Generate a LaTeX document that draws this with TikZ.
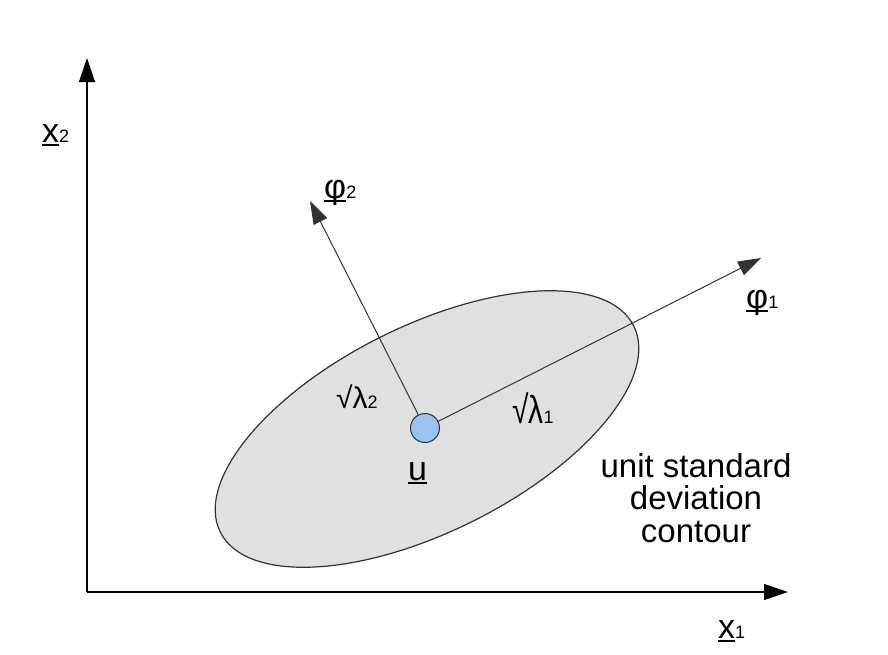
\documentclass[tikz,border=0pt]{standalone}
\usepackage{fontspec}
\setmainfont{Liberation Sans}
\usetikzlibrary{arrows.meta}
\newcommand\myul[1]{\setbox0\hbox{#1}\rlap{\rule[-3.5pt]{\wd0}{1.4pt}}\box0}
\newcommand\mysub[1]{{\fontsize{18}{18}\selectfont #1}}
\definecolor{ellfill}{RGB}{224,224,224}
\definecolor{ublue}{RGB}{153,194,243}
\definecolor{dgray}{RGB}{50,50,50}
\begin{document}
\begin{tikzpicture}[x=1pt,y=-1pt,
  axis/.style={line width=1.2pt, draw=black, -{Triangle[length=24pt,width=16pt]}},
  vec/.style={line width=1pt, draw=dgray, -{Triangle[length=23pt,width=15pt]}},
  lbl/.style={inner sep=0pt, font=\fontsize{34}{34}\selectfont},
  lam/.style={inner sep=0pt, font=\fontsize{30}{30}\selectfont},
  note/.style={inner sep=0pt, align=center, font=\fontsize{33}{32.5}\selectfont},
  mean/.style={circle, draw=dgray, line width=1pt, fill=ublue, minimum size=29pt, inner sep=0pt}]
\useasboundingbox (0,0) rectangle (888,654);
% axes
\coordinate (O) at (87,592);
\coordinate (xtip) at (788,592);
\coordinate (ytip) at (87,58);
\draw[axis] (O) -- (xtip);
\draw[axis] (O) -- (ytip);
% ellipse
\draw[fill=ellfill, draw=dgray, line width=1.2pt, shift={(427,429)}, rotate=26.5]
  (0,0) ellipse [x radius=231, y radius=103];
% mean and eigenvectors
\node[mean] (u) at (425,428) {};
\coordinate (p1) at (761,258);
\coordinate (p2) at (310,201);
\draw[vec] (u) -- (p1);
\draw[vec] (u) -- (p2);
% labels
\node[lbl, anchor=base west] (lx2) at (42,142) {\myul{x}\mysub{2}};
\node[lbl, anchor=base west] (lx1) at (718,638) {\myul{x}\mysub{1}};
\node[lbl, anchor=base west] (lp2) at (324,198) {\myul{φ}\mysub{2}};
\node[lbl, anchor=base west] (lp1) at (746,308) {\myul{φ}\mysub{1}};
\node[lbl, anchor=base west] (lu) at (408,480) {\myul{u}};
\node[lam, anchor=base west] (l2) at (336,408) {√λ\mysub{2}};
\node[lam, anchor=base west] (l1) at (512,423) {\scalebox{1}[1.3]{√λ}\mysub{1}};
\node[note, anchor=north] (cont) at (696,453) {unit standard\\deviation\\contour};
\end{tikzpicture}
\end{document}
